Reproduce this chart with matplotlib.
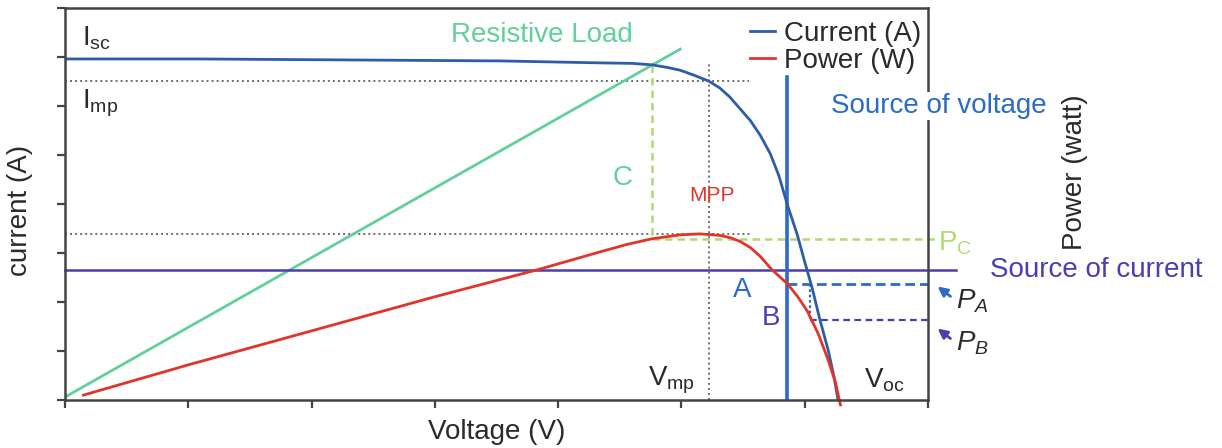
import matplotlib
matplotlib.use("Agg")
import matplotlib.pyplot as plt

plt.rcParams["font.family"] = ["Liberation Sans", "DejaVu Sans"]
plt.rcParams["mathtext.fontset"] = "custom"
plt.rcParams["mathtext.rm"] = "Liberation Sans"
plt.rcParams["mathtext.it"] = "Liberation Sans:italic"

# I-V curve of the cell (voltage / current, arbitrary units)
iv_voltage = [0.00, 1.10, 2.31, 3.53, 4.34, 4.60, 4.76, 4.88, 4.99, 5.10, 5.22, 5.31,
              5.39, 5.47, 5.56, 5.64, 5.72, 5.79, 5.86, 5.94, 6.00, 6.06, 6.12, 6.19,
              6.24, 6.27]
iv_current = [6.96, 6.96, 6.94, 6.92, 6.88, 6.87, 6.84, 6.79, 6.73, 6.63, 6.51, 6.37,
              6.19, 5.96, 5.70, 5.40, 5.03, 4.58, 3.98, 3.37, 2.82, 2.29, 1.67, 1.02,
              0.45, 0.00]

# P-V curve
pv_voltage = [0.15, 0.99, 1.97, 2.99, 3.85, 4.28, 4.55, 4.76, 4.99, 5.15, 5.31, 5.40,
              5.48, 5.56, 5.64, 5.73, 5.86, 5.94, 6.02, 6.11, 6.19, 6.25, 6.29]
pv_power = [0.10, 0.71, 1.39, 2.10, 2.67, 2.98, 3.17, 3.29, 3.37, 3.39, 3.36, 3.31,
            3.23, 3.11, 2.93, 2.67, 2.37, 2.12, 1.82, 1.35, 0.82, 0.35, -0.10]

# resistive load line
load_voltage = [0.0, 4.99]
load_current = [0.06, 7.16]

# characteristic points
i_mp, p_mp, v_mp = 6.51, 3.39, 5.22
v_c, p_c = 4.76, 3.29
v_src, i_src = 5.86, 2.65
p_a, p_b, v_b = 2.37, 1.63, 6.04

BLUE = "#2f5ca8"
RED = "#e2342b"
GREEN = "#62cf9c"
LGREEN = "#b2d873"
SRC_V = "#2c6cc2"
SRC_I = "#4a3fae"
GRAY = "#6e6e6e"
INK = "#2a2a2a"

fig = plt.figure(figsize=(12.22, 4.48), dpi=100)
ax = fig.add_axes([65 / 1222, 1 - 400 / 448, 863 / 1222, 392 / 448])
ax.set_xlim(0, 7)
ax.set_ylim(0, 8)

# helper dotted lines
ax.plot([0, 5.55], [i_mp, i_mp], color=GRAY, ls=(0, (1, 1.6)), lw=1.4)
ax.plot([0, 5.57], [p_mp, p_mp], color=GRAY, ls=(0, (1, 1.6)), lw=1.4)
ax.plot([v_mp, v_mp], [0, 6.9], color=GRAY, ls=(0, (1, 1.6)), lw=1.4)

# resistive load operating point C
ax.plot(load_voltage, load_current, color=GREEN, lw=2)
ax.plot([v_c, v_c], [6.84, p_c], color=LGREEN, ls=(0, (3, 2)), lw=1.8)
ax.plot([v_c, 7.06], [p_c, p_c], color=LGREEN, ls=(0, (3, 2)), lw=1.8, clip_on=False)

# sources
ax.plot([0, 7.23], [i_src, i_src], color=SRC_I, lw=1.8, clip_on=False)
ax.plot([v_src, v_src], [0, 6.59], color=SRC_V, lw=2.6)
ax.plot([v_src, 7.0], [p_a, p_a], color=SRC_V, ls=(0, (3.5, 1.8)), lw=2)
ax.plot([v_b, 7.0], [p_b, p_b], color=SRC_I, ls=(0, (3, 2)), lw=1.6)
ax.plot([v_b, v_b], [p_a, p_b], color=SRC_V, ls=(0, (1.2, 1.2)), lw=1.6)

# curves
ax.plot(iv_voltage, iv_current, color=BLUE, lw=2, label="Current (A)")
ax.plot(pv_voltage, pv_power, color=RED, lw=2, label="Power (W)", clip_on=False)

leg = ax.legend(loc="upper right", bbox_to_anchor=(1.0, 0.985), frameon=False, fontsize=20,
                handlelength=0.9, handletextpad=0.3, labelspacing=0.05, borderpad=0.2,
                borderaxespad=0.05)
for t in leg.get_texts():
    t.set_color(INK)

for side in ax.spines.values():
    side.set_color("#444444")
    side.set_linewidth(1.8)
ax.set_xticks(range(8))
ax.set_yticks(range(9))
ax.set_xticklabels([])
ax.set_yticklabels([])
ax.tick_params(direction="out", length=6, width=1.6, colors="#444444")

# annotations
fs = 20
ax.text(0.14, 7.39, r"$\mathrm{I_{sc}}$", fontsize=fs, ha="left", va="center", color=INK)
ax.text(0.14, 6.06, r"$\mathrm{I_{mp}}$", fontsize=fs, ha="left", va="center", color=INK)
ax.text(3.87, 7.45, "Resistive Load", fontsize=fs, ha="center", va="center", color=GREEN)
ax.text(7.09, 6.0, "Source of voltage", fontsize=fs, ha="center", va="center", color=SRC_V,
        bbox=dict(facecolor="white", edgecolor="none", pad=1), clip_on=False)
ax.text(4.52, 4.53, "C", fontsize=fs, ha="center", va="center", color=GREEN)
ax.text(5.25, 4.18, "MPP", fontsize=15, ha="center", va="center", color=RED)
ax.text(7.08, 3.2, r"$\mathrm{P_C}$", fontsize=fs, ha="left", va="center", color=LGREEN,
        clip_on=False)
ax.text(7.50, 2.65, "Source of current", fontsize=fs, ha="left", va="center", color=SRC_I,
        clip_on=False)
ax.text(5.49, 2.24, "A", fontsize=fs, ha="center", va="center", color=SRC_V)
ax.text(5.73, 1.67, "B", fontsize=fs, ha="center", va="center", color=SRC_I)
ax.text(7.23, 2.02, r"$P_A$", fontsize=fs, ha="left", va="center", color=INK,
        clip_on=False)
ax.text(7.23, 1.16, r"$P_B$", fontsize=fs, ha="left", va="center", color=INK,
        clip_on=False)
ax.annotate("", xy=(7.06, 2.35), xytext=(7.20, 2.08), annotation_clip=False,
            arrowprops=dict(arrowstyle="-|>", color=SRC_V, lw=2, mutation_scale=14))
ax.annotate("", xy=(7.06, 1.49), xytext=(7.20, 1.22), annotation_clip=False,
            arrowprops=dict(arrowstyle="-|>", color=SRC_I, lw=2, mutation_scale=14))
ax.text(4.92, 0.41, r"$\mathrm{V_{mp}}$", fontsize=fs, ha="center", va="center", color=INK)
ax.text(6.65, 0.41, r"$\mathrm{V_{oc}}$", fontsize=fs, ha="center", va="center", color=INK)

fig.text(497 / 1222, 1 - 432 / 448, "Voltage (V)", fontsize=fs, ha="center", va="center",
         color=INK)
fig.text(20 / 1222, 1 - 210 / 448, "current (A)", fontsize=fs, ha="center", va="center",
         rotation=90, color=INK)
fig.text(1075 / 1222, 1 - 172 / 448, "Power (watt)", fontsize=fs, ha="center", va="center",
         rotation=90, color=INK)

fig.savefig("out.png", dpi=100)
